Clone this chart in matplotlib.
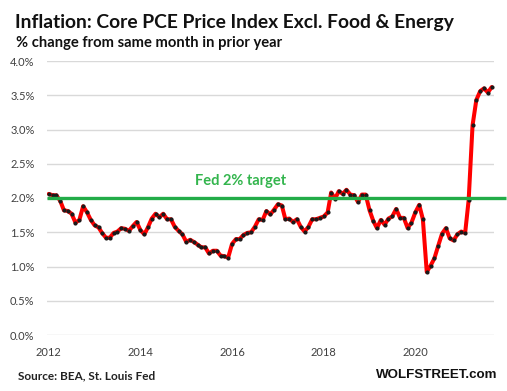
import matplotlib
matplotlib.use("Agg")
import matplotlib.pyplot as plt
import matplotlib.dates as mdates
import pandas as pd

# ---- data ----
start_month = "2012-01-01"
core_pce_yoy = [
    # 2012
    2.06, 2.04, 2.04, 1.96, 1.82, 1.81, 1.77, 1.64, 1.68, 1.88, 1.79, 1.68,
    # 2013
    1.60, 1.57, 1.49, 1.42, 1.42, 1.49, 1.51, 1.56, 1.55, 1.52, 1.59, 1.65,
    # 2014
    1.53, 1.47, 1.57, 1.70, 1.77, 1.72, 1.77, 1.69, 1.69, 1.58, 1.52, 1.47,
    # 2015
    1.36, 1.39, 1.36, 1.32, 1.28, 1.28, 1.19, 1.23, 1.23, 1.16, 1.15, 1.13,
    # 2016
    1.33, 1.40, 1.40, 1.46, 1.49, 1.50, 1.58, 1.69, 1.68, 1.81, 1.76, 1.83,
    # 2017
    1.91, 1.89, 1.69, 1.70, 1.65, 1.69, 1.58, 1.51, 1.58, 1.69, 1.69, 1.71,
    # 2018
    1.73, 1.79, 2.08, 1.99, 2.10, 2.06, 2.12, 2.05, 2.04, 1.94, 2.05, 2.05,
    # 2019
    1.82, 1.66, 1.56, 1.68, 1.61, 1.70, 1.73, 1.84, 1.71, 1.71, 1.56, 1.64,
    # 2020
    1.79, 1.90, 1.69, 0.92, 1.01, 1.12, 1.30, 1.48, 1.56, 1.41, 1.38, 1.47,
    # 2021
    1.51, 1.49, 1.97, 3.06, 3.43, 3.56, 3.60, 3.54, 3.62,
]
fed_target = 2.0
y_ticks = [0.0, 0.5, 1.0, 1.5, 2.0, 2.5, 3.0, 3.5, 4.0]
x_tick_years = [2012, 2014, 2016, 2018, 2020]

title = "Inflation: Core PCE Price Index Excl. Food & Energy"
subtitle = "% change from same month in prior year"
target_label = "Fed 2% target"
source = "Source: BEA, St. Louis Fed"
brand = "WOLFSTREET.com"

dates = pd.date_range(start_month, periods=len(core_pce_yoy), freq="MS")

# ---- figure ----
W, H = 507, 391
fig = plt.figure(figsize=(W / 100, H / 100), dpi=100)
FONT = "Lato"
plt.rcParams["font.family"] = FONT

ax_l, ax_r, ax_t, ax_b = 47, 494, 61, 335
ax = fig.add_axes([ax_l / W, 1 - ax_b / H, (ax_r - ax_l) / W, (ax_b - ax_t) / H])

ax.set_ylim(0, 4.0)
ax.set_xlim(dates[0] - pd.Timedelta(days=14), dates[-1] + pd.Timedelta(days=18))
ax.set_yticks(y_ticks)
ax.set_yticklabels([f"{v:.1f}%" for v in y_ticks])
ax.set_xticks([pd.Timestamp(f"{y}-01-01") for y in x_tick_years])
ax.set_xticklabels([str(y) for y in x_tick_years])
ax.tick_params(axis="both", length=0, labelsize=8, labelcolor="#404040")
ax.tick_params(axis="y", pad=9)
ax.tick_params(axis="x", pad=9)
ax.grid(axis="y", color="#d9d9d9", linewidth=1.0)
ax.set_axisbelow(True)
for s in ax.spines.values():
    s.set_visible(False)

ax.plot(dates, core_pce_yoy, color="#ff0000", linewidth=2.9, zorder=3,
        solid_joinstyle="round", solid_capstyle="round")
ax.plot(dates, core_pce_yoy, linestyle="none", marker="o", markersize=2.0,
        color="#1a1a1a", zorder=4)

ax.plot([0, 1.027], [fed_target, fed_target], transform=ax.get_yaxis_transform(),
        color="#22ac48", linewidth=2.4, clip_on=False, zorder=5, solid_capstyle="butt")

fig.text(195 / W, 1 - 181 / H, target_label, color="#33b54d", fontsize=10.5,
         fontweight="bold", ha="left", va="center")

fig.text(15 / W, 1 - 28 / H, title, fontsize=13.9, fontweight="bold",
         color="#111111", ha="left", va="baseline")
fig.text(16 / W, 1 - 47 / H, subtitle, fontsize=10.6, fontweight="bold",
         color="#111111", ha="left", va="baseline")
fig.text(18 / W, 1 - 376 / H, source, fontsize=8.5, fontweight="bold",
         color="#222222", ha="left", va="center")
fig.text(497 / W, 1 - 375 / H, brand, fontsize=9.6, fontweight="bold",
         color="#111111", ha="right", va="center", family="Liberation Sans")

fig.savefig("out.png", dpi=100)
